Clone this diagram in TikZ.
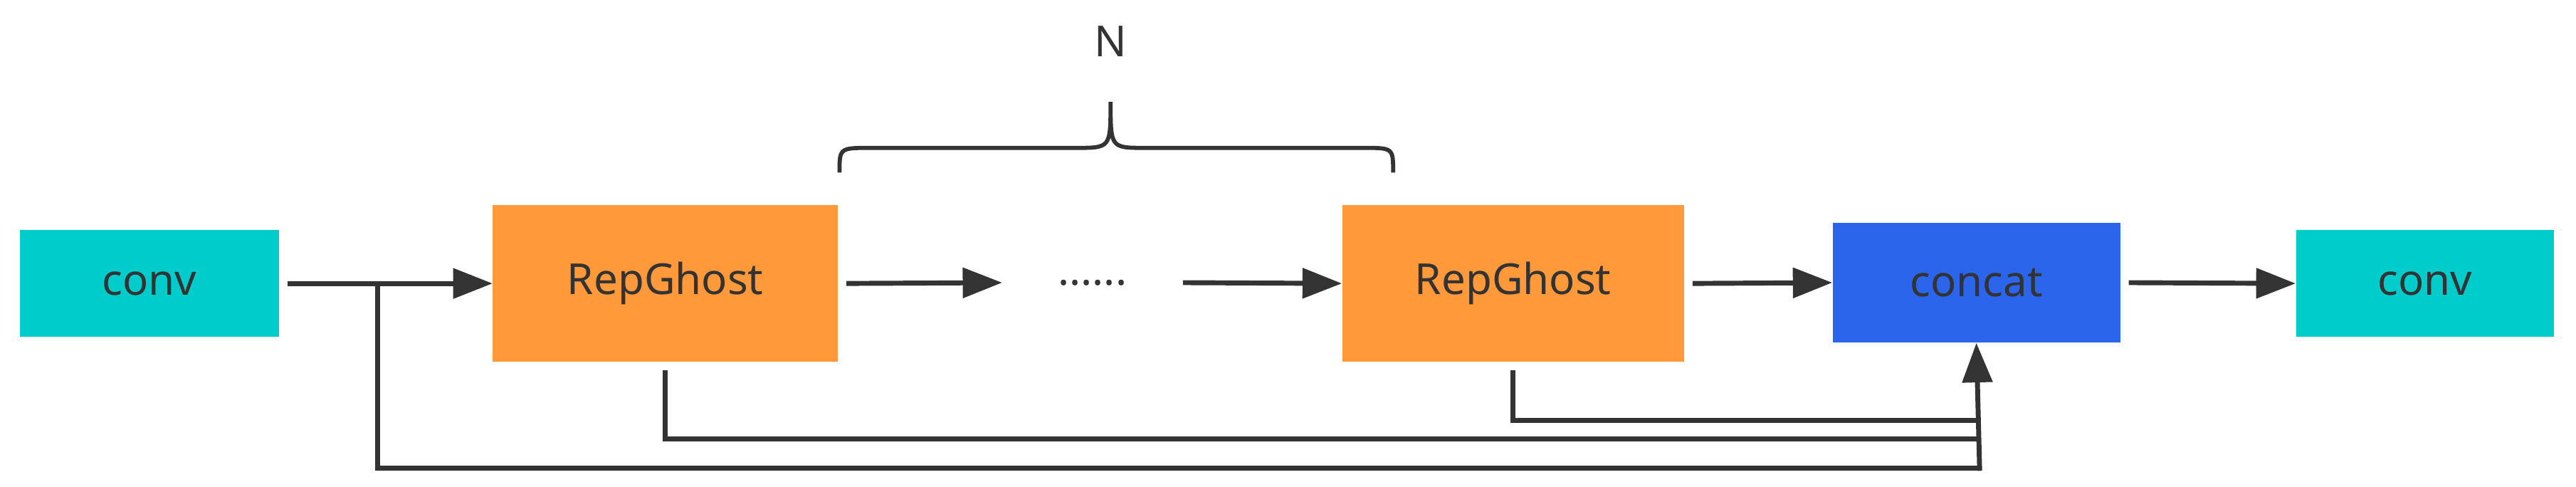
\documentclass[tikz,border=0pt]{standalone}
\usepackage{fontspec}
\setmainfont{Noto Sans}
\usetikzlibrary{arrows.meta}
\definecolor{cy}{RGB}{0,204,204}
\definecolor{og}{RGB}{255,153,58}
\definecolor{bl}{RGB}{43,101,236}
\definecolor{ln}{RGB}{51,51,51}
\begin{document}
\begin{tikzpicture}[x=1pt,y=-1pt,
 box/.style={draw=none,inner sep=0pt,font=\fontsize{26}{30}\selectfont,text=ln},
 ar/.style={line width=3pt,draw=ln,-{Triangle[length=24pt,width=18pt]}},
 ln/.style={line width=3pt,draw=ln}]
\useasboundingbox (0,0) rectangle (1568,296);
\node[box,fill=cy,minimum width=158pt,minimum height=65pt] (c1) at (91,172.5) {conv};
\node[box,fill=og,minimum width=210pt,minimum height=95pt] (r1) at (405,172.5) {RepGhost};
\node[box,font=\fontsize{26}{30}\selectfont\bfseries] (d) at (665,172) {......};
\node[box,fill=og,minimum width=208pt,minimum height=95pt] (r2) at (921,172.5) {RepGhost};
\node[box,fill=bl,minimum width=175pt,minimum height=73pt] (cc) at (1203,172) {concat};
\node[box,fill=cy,minimum width=157pt,minimum height=65pt] (c2) at (1476,172.5) {conv};
\node[box] (n) at (676,25) {N};
\coordinate (s) at (230,172);
\draw[ar] (c1.east) ++(5,0) -- (r1.west);
\draw[ar] (r1.east) ++(5,0) -- (610,172);
\draw[ar] (720,172) -- (r2.west);
\draw[ar] (r2.east) ++(5,0) -- (cc.west);
\draw[ar] (cc.east) ++(5,0) -- (c2.west);
\draw[ln] (s) -- (230,285) -- (1205,285);
\draw[ln] (r1.south) ++(0,5) -- (405,267) -- (1205,267);
\draw[ln] (r2.south) ++(0,5) -- (921,256) -- (1205,256);
\draw[ar] (1205,286.5) -- (cc.south);
\draw[line width=2.5pt,draw=ln] (511,105) .. controls (511,90) .. (530,90) -- (655,90) .. controls (676,90) .. (676,62)
 .. controls (676,90) .. (697,90) -- (830,90) .. controls (848,90) .. (848,105);
\end{tikzpicture}
\end{document}
